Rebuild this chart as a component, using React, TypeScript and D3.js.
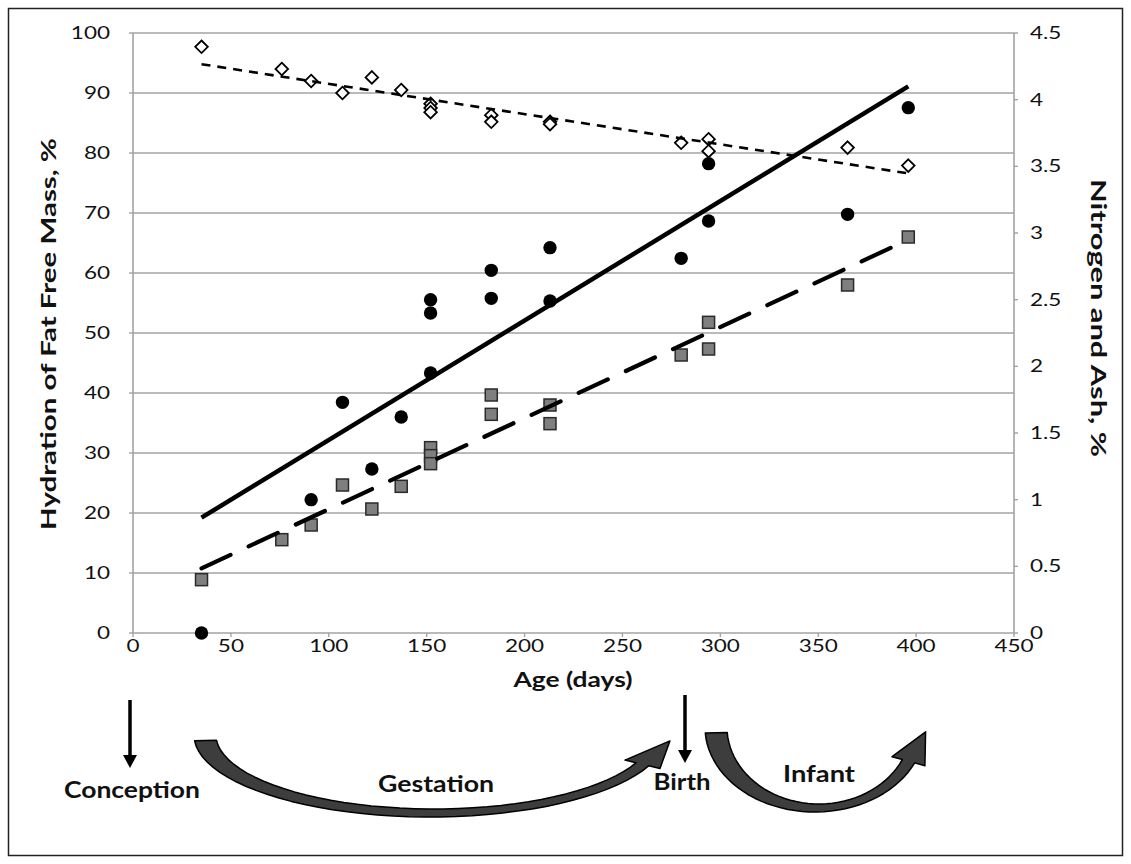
import React from 'react';
import * as d3 from 'd3';

// ---------- data ----------
const xTicks = [0, 50, 100, 150, 200, 250, 300, 350, 400, 450];
const leftTicks = [0, 10, 20, 30, 40, 50, 60, 70, 80, 90, 100];
const rightTicks = [0, 0.5, 1, 1.5, 2, 2.5, 3, 3.5, 4, 4.5];

const hydrationDays = [35, 76, 91, 107, 122, 137, 152, 152, 152, 183, 183, 213, 213, 280, 294, 294, 365, 396];
const hydrationValues = [97.7, 94.0, 92.0, 90.0, 92.6, 90.5, 88.2, 87.5, 86.8, 86.3, 85.2, 85.2, 84.8, 81.7, 82.3, 80.3, 80.9, 77.9];

const nitrogenDays = [35, 91, 107, 122, 137, 152, 152, 152, 183, 183, 213, 213, 280, 294, 294, 365, 396];
const nitrogenValues = [0, 1.0, 1.73, 1.23, 1.62, 2.5, 2.4, 1.95, 2.72, 2.51, 2.89, 2.49, 2.81, 3.52, 3.09, 3.14, 3.94];

const ashDays = [35, 76, 91, 107, 122, 137, 152, 152, 152, 183, 183, 213, 213, 280, 294, 294, 365, 396];
const ashValues = [0.4, 0.7, 0.81, 1.11, 0.93, 1.1, 1.39, 1.33, 1.27, 1.785, 1.64, 1.71, 1.57, 2.085, 2.33, 2.13, 2.61, 2.97];

const trendDays = [35, 396];
const hydrationTrend = [94.8, 76.6];
const nitrogenTrend = [0.865, 4.1];
const ashTrend = [0.485, 2.95];

const FONT = "Lato, 'Open Sans', sans-serif";

type TProps = {
  x: number; y: number; children: React.ReactNode; size?: number; weight?: string | number;
  anchor?: 'start' | 'middle' | 'end'; sx?: number; rotate?: number; len?: number;
};
const T = ({ x, y, children, size = 18, weight = 'normal', anchor = 'start', sx = 1, rotate = 0, len }: TProps) => (
  <text
    transform={`translate(${x},${y}) rotate(${rotate}) scale(${sx},1)`}
    fontFamily={FONT}
    fontSize={size}
    fontWeight={weight}
    textAnchor={anchor}
    fill="#111"
    {...(len ? { textLength: len, lengthAdjust: 'spacingAndGlyphs' } : {})}
  >
    {children}
  </text>
);

function curvedArrow(
  cxo: number, cxi: number, cy: number,
  rxo: number, ryo: number, rxi: number, ryi: number,
  phiStart: number, phiEnd: number, headHalf: number, headLen: number
) {
  const toR = (d: number) => (d * Math.PI) / 180;
  const n = 40;
  const outer: [number, number][] = [];
  const inner: [number, number][] = [];
  for (let k = 0; k <= n; k++) {
    const p = toR(phiStart + (phiEnd - phiStart) * (k / n));
    outer.push([cxo + rxo * Math.cos(p), cy + ryo * Math.sin(p)]);
    inner.push([cxi + rxi * Math.cos(p), cy + ryi * Math.sin(p)]);
  }
  const O = outer[n];
  const I = inner[n];
  const C: [number, number] = [(O[0] + I[0]) / 2, (O[1] + I[1]) / 2];
  const pe = toR(phiEnd);
  const rx = (rxo + rxi) / 2;
  const ry = (ryo + ryi) / 2;
  let d: [number, number] = [rx * Math.sin(pe), -ry * Math.cos(pe)];
  const dl = Math.hypot(d[0], d[1]);
  d = [d[0] / dl, d[1] / dl];
  let nn: [number, number] = [O[0] - I[0], O[1] - I[1]];
  const nl = Math.hypot(nn[0], nn[1]);
  nn = [nn[0] / nl, nn[1] / nl];
  const bo: [number, number] = [C[0] + nn[0] * headHalf, C[1] + nn[1] * headHalf];
  const bi: [number, number] = [C[0] - nn[0] * headHalf, C[1] - nn[1] * headHalf];
  const tip: [number, number] = [C[0] + d[0] * headLen, C[1] + d[1] * headLen];
  const pts = [...outer, bo, tip, bi, ...inner.slice().reverse()];
  return 'M' + pts.map((p) => `${p[0].toFixed(1)},${p[1].toFixed(1)}`).join('L') + 'Z';
}

export default function App() {
  const x = d3.scaleLinear().domain([0, 450]).range([133, 1014]);
  const yL = d3.scaleLinear().domain([0, 100]).range([633, 33]);
  const yR = d3.scaleLinear().domain([0, 4.5]).range([633, 33]);

  const lineL = d3.line<number>().x((_, i) => x(trendDays[i])).y((v) => yL(v));
  const lineR = d3.line<number>().x((_, i) => x(trendDays[i])).y((v) => yR(v));

  const diamond = (cx: number, cy: number, r: number) =>
    `M${cx},${cy - r}L${cx + r},${cy}L${cx},${cy + r}L${cx - r},${cy}Z`;

  const gest = curvedArrow(430, 434, 735, 236, 82, 218, 74, 176, 22, 18, 36);
  const inf = curvedArrow(815, 819, 727, 110, 85, 92, 77, 176, 25, 17, 34);

  const grid = '#a3a3a3';

  return (
    <svg
      width={1131}
      height={864}
      style={{ position: 'absolute', left: 0, top: 0, background: '#fff' }}
    >
      <rect x={0} y={0} width={1131} height={864} fill="#fff" />
      <rect x={8.5} y={8.5} width={1114} height={847} fill="none" stroke="#222" strokeWidth={1.5} />

      {/* gridlines */}
      {leftTicks.map((t) => (
        <line key={'g' + t} x1={x(0)} x2={x(450)} y1={yL(t)} y2={yL(t)} stroke={grid} strokeWidth={1.6} />
      ))}
      {/* axes */}
      <line x1={x(0)} x2={x(0)} y1={yL(0)} y2={yL(100)} stroke={grid} strokeWidth={1.6} />
      <line x1={x(450)} x2={x(450)} y1={yL(0)} y2={yL(100)} stroke={grid} strokeWidth={1.6} />
      {leftTicks.map((t) => (
        <line key={'lt' + t} x1={x(0) - 4} x2={x(0)} y1={yL(t)} y2={yL(t)} stroke={grid} strokeWidth={1.4} />
      ))}
      {rightTicks.map((t) => (
        <line key={'rt' + t} x1={x(450)} x2={x(450) + 4} y1={yR(t)} y2={yR(t)} stroke={grid} strokeWidth={1.4} />
      ))}
      {xTicks.map((t) => (
        <line key={'xt' + t} x1={x(t)} x2={x(t)} y1={yL(0)} y2={yL(0) + 4} stroke={grid} strokeWidth={1.4} />
      ))}

      {/* tick labels */}
      {leftTicks.map((t) => (
        <T key={'ll' + t} x={110} y={yL(t) + 6} anchor="end" size={18} sx={1.25}>{t}</T>
      ))}
      {rightTicks.map((t) => (
        <T key={'rl' + t} x={1030} y={yR(t) + 6} anchor="start" size={18} sx={1.25}>{t}</T>
      ))}
      {xTicks.map((t) => (
        <T key={'xl' + t} x={x(t)} y={652} anchor="middle" size={18} sx={1.25}>{t}</T>
      ))}

      {/* axis titles */}
      <T x={56} y={334} rotate={-90} anchor="middle" size={20} weight="bold" len={392}>Hydration of Fat Free Mass, %</T>
      <T x={1091} y={318} rotate={90} anchor="middle" size={20} weight="bold" len={278}>Nitrogen and Ash, %</T>
      <T x={573} y={687} anchor="middle" size={20} weight="bold" len={119}>Age (days)</T>

      {/* markers */}
      {ashDays.map((d, i) => (
        <rect key={'a' + i} x={x(d) - 6} y={yR(ashValues[i]) - 6} width={12} height={12}
          fill="#7f7f7f" stroke="#2a2a2a" strokeWidth={1.5} />
      ))}
      {nitrogenDays.map((d, i) => (
        <circle key={'n' + i} cx={x(d)} cy={yR(nitrogenValues[i])} r={6.7} fill="#000" />
      ))}
      {hydrationDays.map((d, i) => (
        <path key={'h' + i} d={diamond(x(d), yL(hydrationValues[i]), 6.3)} fill="#fff" stroke="#000" strokeWidth={1.8} />
      ))}

      {/* trendlines */}
      <path d={lineL(hydrationTrend) || ''} fill="none" stroke="#000" strokeWidth={2.6} strokeDasharray="9,7" />
      <path d={lineR(nitrogenTrend) || ''} fill="none" stroke="#000" strokeWidth={4.5} />
      <path d={lineR(ashTrend) || ''} fill="none" stroke="#000" strokeWidth={4.2} strokeDasharray="32,20" strokeLinecap="round" />

      {/* timeline annotations */}
      <line x1={130} x2={130} y1={700} y2={757} stroke="#000" strokeWidth={3.5} />
      <path d="M123,755L137,755L130,768Z" fill="#000" />
      <line x1={685} x2={685} y1={695} y2={752} stroke="#000" strokeWidth={3.5} />
      <path d="M678,750L692,750L685,763Z" fill="#000" />

      <path d={gest} fill="#3d3d3d" stroke="#000" strokeWidth={1.5} strokeLinejoin="round" />
      <path d={inf} fill="#3d3d3d" stroke="#000" strokeWidth={1.5} strokeLinejoin="round" />

      <T x={132} y={798} anchor="middle" size={22} weight="bold" len={136}>Conception</T>
      <T x={436} y={792} anchor="middle" size={22} weight="bold" len={116}>Gestation</T>
      <T x={682} y={790} anchor="middle" size={22} weight="bold" len={57}>Birth</T>
      <T x={819} y={782} anchor="middle" size={22} weight="bold" len={72}>Infant</T>
    </svg>
  );
}
